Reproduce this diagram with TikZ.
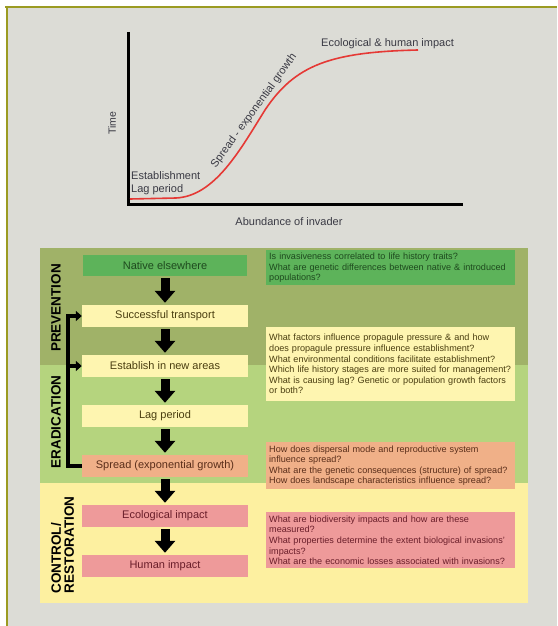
\documentclass[tikz,border=0pt]{standalone}
\usepackage{fontspec}
\setmainfont{Liberation Sans}
\usetikzlibrary{arrows.meta}
\definecolor{bg}{HTML}{DCDCD6}
\definecolor{framec}{HTML}{9B9B22}
\definecolor{prevc}{HTML}{A0B268}
\definecolor{eradc}{HTML}{B5D47E}
\definecolor{ctrlc}{HTML}{FDF0A0}
\definecolor{greenbox}{HTML}{5DB35A}
\definecolor{yellowbox}{HTML}{FEF5B0}
\definecolor{salmonbox}{HTML}{F0B088}
\definecolor{pinkbox}{HTML}{EE9A9A}
\definecolor{curvec}{HTML}{E53935}
\definecolor{gtext}{HTML}{3A3A44}
\definecolor{tgreen}{HTML}{1E4A1E}
\definecolor{tyellow}{HTML}{4A3E10}
\definecolor{tsalmon}{HTML}{5A2E1A}
\definecolor{tpink}{HTML}{6A1E2A}
\newcommand\myqfont{\fontsize{9.1}{10.6}\selectfont\hyphenpenalty 10000\relax\exhyphenpenalty 10000\relax\frenchspacing}
\tikzset{
  glabel/.style={text=gtext, inner sep=0pt, font=\fontsize{11}{13}\selectfont},
  lbox/.style={minimum width=166pt, minimum height=22pt, inner sep=0pt, font=\fontsize{11}{13}\selectfont},
  qbox/.style={anchor=north west, inner xsep=3pt, inner ysep=2pt, text width=243pt, align=left, font=\myqfont},
  bigarrow/.style={line width=9pt, -{Triangle[width=20pt,length=12pt]}},
  brk/.style={line width=4pt, line join=miter},
  brktip/.style={-{Triangle[width=10pt,length=6pt]}},
  sidelabel/.style={rotate=90, font=\bfseries\fontsize{13.5}{13}\selectfont, inner sep=0pt}
}
\begin{document}
\begin{tikzpicture}[x=1pt,y=-1pt]
\useasboundingbox (0,0) rectangle (557,626);
\fill[white] (0,0) rectangle (557,626);
\fill[bg] (7,7) rectangle (557,626);
\draw[framec, line width=2.5pt] (5,7) -- (557,7);
\draw[framec, line width=2.5pt] (7,6) -- (7,626);

% ---------- graph ----------
\draw[black, line width=3pt] (128,32) -- (128,204) -- (463,204);
\draw[curvec, line width=1.6pt] (130,199) -- (176,198)
  .. controls (215,196) and (240,150) .. (265,110)
  .. controls (295,65) and (330,52) .. (418,50);
\node[glabel, anchor=west] (gimpact) at (321,44) {Ecological \& human impact};
\node[glabel, anchor=west] (gest) at (131,176) {Establishment};
\node[glabel, anchor=west] (glag) at (131,190) {Lag period};
\node[glabel] (gabund) at (289,222) {Abundance of invader};
\node[glabel, rotate=90, font=\fontsize{10.5}{12}\selectfont] (gtime) at (112,123) {Time};
\node[glabel, rotate=54] (gspread) at (254,111) {Spread - exponential growth};

% ---------- bands ----------
\fill[prevc] (40,248) rectangle (528,365);
\fill[eradc] (40,365) rectangle (528,483);
\fill[ctrlc] (40,483) rectangle (528,603);

% ---------- left column ----------
\node[lbox, fill=greenbox, text=tgreen, minimum width=164pt, minimum height=21pt] (native) at (165,265.5) {Native elsewhere};
\node[lbox, fill=yellowbox, text=tyellow] (succ) at (165,316) {Successful transport};
\node[lbox, fill=yellowbox, text=tyellow] (est) at (165,366) {Establish in new areas};
\node[lbox, fill=yellowbox, text=tyellow] (lag) at (165,416) {Lag period};
\node[lbox, fill=salmonbox, text=tsalmon] (spread) at (165,466) {Spread (exponential growth)};
\node[lbox, fill=pinkbox, text=tpink] (eco) at (165,516) {Ecological impact};
\node[lbox, fill=pinkbox, text=tpink] (human) at (165,566) {Human impact};

\draw[bigarrow] ([yshift=-2pt]native.south) -- ([yshift=2pt]succ.north);
\draw[bigarrow] ([yshift=-2pt]succ.south) -- ([yshift=2pt]est.north);
\draw[bigarrow] ([yshift=-2pt]est.south) -- ([yshift=2pt]lag.north);
\draw[bigarrow] ([yshift=-2pt]lag.south) -- ([yshift=2pt]spread.north);
\draw[bigarrow] ([yshift=-2pt]spread.south) -- ([yshift=2pt]eco.north);
\draw[bigarrow] ([yshift=-2pt]eco.south) -- ([yshift=2pt]human.north);

% bracket
\coordinate (brkx) at (68,400);
\draw[brk, brktip] (spread.west) -| (brkx) |- (succ.west);
\draw[brk, brktip] (brkx |- est.west) -- (est.west);

% side labels
\node[sidelabel] (lprev) at (56,308) {PREVENTION};
\node[sidelabel] (lerad) at (56,422) {ERADICATION};
\node[sidelabel, align=left] (lctrl) at (62.5,545) {CONTROL/\\RESTORATION};

% ---------- right question boxes ----------
\node[qbox, fill=greenbox, text=tgreen, minimum height=35pt] (q1) at (266,250)
  {Is invasiveness correlated to life history traits?\\What are genetic differences between native \& introduced\\populations?};
\node[qbox, fill=yellowbox, text=tyellow, minimum height=74pt] (q2) at (266,327)
  {What factors influence propagule pressure \& and how\\does propagule pressure influence establishment?\\What environmental conditions facilitate establishment?\\Which life history stages are more suited for management?\\What is causing lag? Genetic or population growth factors\\or both?};
\node[qbox, fill=salmonbox, text=tsalmon, minimum height=47pt] (q3) at (266,442)
  {How does dispersal mode and reproductive system\\influence spread?\\What are the genetic consequences (structure) of spread?\\How does landscape characteristics influence spread?};
\node[qbox, fill=pinkbox, text=tpink, minimum height=56pt] (q4) at (266,512)
  {What are biodiversity impacts and how are these\\measured?\\What properties determine the extent biological invasions'\\impacts?\\What are the economic losses associated with invasions?};
\end{tikzpicture}
\end{document}
